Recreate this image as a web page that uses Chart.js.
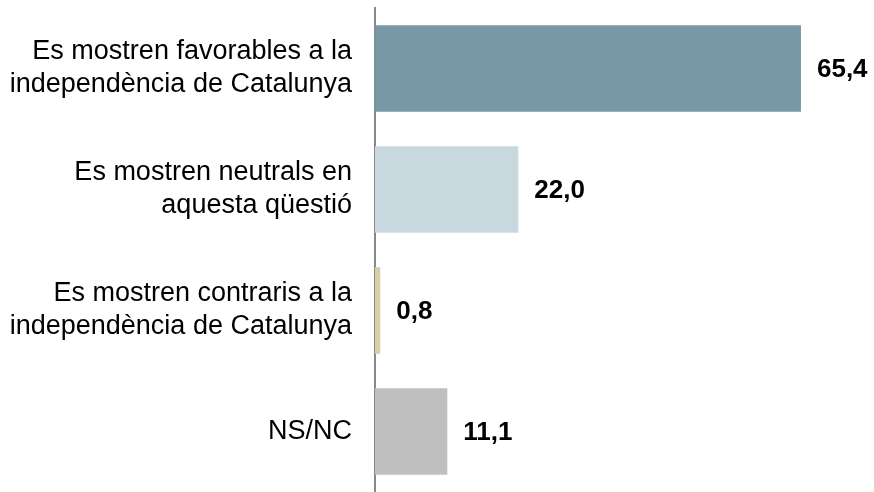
<!DOCTYPE html>
<html>
<head>
<meta charset="utf-8">
<script src="https://cdn.jsdelivr.net/npm/chart.js@4"></script>
<style>
  body { margin: 0; background: #fff; }
  #wrap { width: 874px; height: 492px; }
</style>
</head>
<body>
<div id="wrap"><canvas id="graphique"></canvas></div>
<script>
const categories = [
  ["Es mostren favorables a la", "independència de Catalunya"],
  ["Es mostren neutrals en", "aquesta qüestió"],
  ["Es mostren contraris a la", "independència de Catalunya"],
  ["NS/NC"],
];
const values = [65.4, 22.0, 0.8, 11.1];
const colors = ["#7799a5", "#c9d8de", "#d8cea8", "#bfbfbf"];

// étiquettes de valeur à droite des barres
const valueLabels = {
  id: "valueLabels",
  afterDatasetsDraw(chart) {
    const ctx = chart.ctx;
    const meta = chart.getDatasetMeta(0);
    ctx.save();
    ctx.font = "bold 26px 'Liberation Sans', Arial, sans-serif";
    ctx.fillStyle = "#000";
    ctx.textAlign = "left";
    ctx.textBaseline = "middle";
    meta.data.forEach((bar, i) => {
      const txt = values[i].toFixed(1).replace(".", ",");
      ctx.fillText(txt, bar.x + 16, bar.y + 1);
    });
    ctx.restore();
  },
};

const config = {
  type: "bar",
  data: {
    labels: categories,
    datasets: [
      {
        data: values,
        backgroundColor: colors,
        barPercentage: 0.8,
        categoryPercentage: 0.895,
      },
    ],
  },
  options: {
    indexAxis: "y",
    responsive: true,
    maintainAspectRatio: false,
    animation: false,
    layout: { padding: { top: 8, right: 4, bottom: 0, left: 0 } },
    plugins: {
      legend: { display: false },
      tooltip: { enabled: false },
    },
    scales: {
      x: {
        display: false,
        min: 0,
        max: 76,
      },
      y: {
        grid: { display: false, drawTicks: false },
        border: { display: true, color: "#888888", width: 2 },
        ticks: {
          padding: 23,
          color: "#000",
          font: { family: "'Liberation Sans', Arial, sans-serif", size: 27, lineHeight: 1.22 },
        },
        afterFit(scale) {
          scale.width = 375;
          scale.paddingTop = 0;
          scale.paddingBottom = 0;
        },
      },
    },
  },
  plugins: [valueLabels],
};

const graphique = new Chart(document.querySelector("#graphique"), config);
</script>
</body>
</html>
